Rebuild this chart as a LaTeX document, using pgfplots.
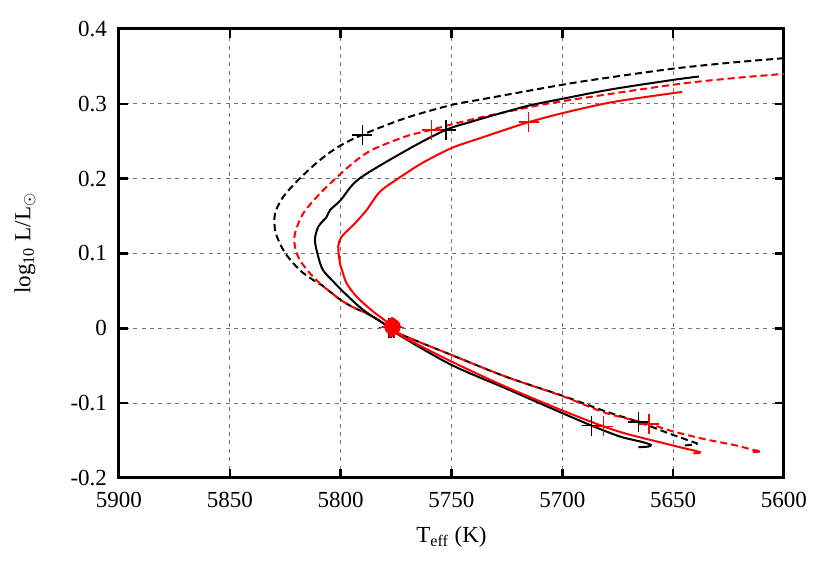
\documentclass[border=0pt]{standalone}
\usepackage{pgfplots}
\pgfplotsset{compat=1.18}
\usepackage{fontspec}
\setmainfont{Liberation Serif}
\begin{document}
\fontsize{11.5pt}{13pt}\selectfont
\begin{tikzpicture}
\path[use as bounding box] (-59.5pt,-51.5pt) rectangle (355.5pt,239pt);
\begin{axis}[
  at={(0,0)}, anchor=south west,
  scale only axis, width=332.5pt, height=224.5pt,
  x dir=reverse, xmin=5600, xmax=5900, ymin=-0.2, ymax=0.4,
  xtick={5600,5650,5700,5750,5800,5850,5900},
  ytick={-0.2,-0.1,0,0.1,0.2,0.3,0.4},
  yticklabels={-0.2,-0.1,0,0.1,0.2,0.3,0.4},
  /pgf/number format/assume math mode=true,
  /pgf/number format/1000 sep={},
  xticklabel style={yshift=-3pt},
  yticklabel style={xshift=-2pt},
  grid=major,
  major grid style={black!55, dash pattern=on 2pt off 2.2pt, line width=0.4pt},
  axis line style={line width=1.5pt},
  tick style={line width=1.2pt, black},
  major tick length=4.5pt,
  tick align=inside,
  xlabel={T\textsubscript{eff} (K)},
  ylabel={log\textsubscript{10} L/L$_\odot$},
  every axis x label/.style={at={(axis description cs:0.5,-0.1314)}, anchor=center},
  every axis y label/.style={at={(axis description cs:-0.1414,0.5234)}, anchor=center, rotate=90},
  every axis plot/.append style={line width=1pt},
]
% black dashed
\addplot[black, smooth, dash pattern=on 3.5pt off 2pt] coordinates {
(5644.7,-0.1566) (5639.4,-0.1544) (5640.9,-0.152) (5651.4,-0.141) (5665.7,-0.125)
(5680.5,-0.111) (5700,-0.090) (5725.7,-0.0644) (5750,-0.0356)
(5772.2,-0.0089) (5777,0) (5786.8,0.0178) (5794.3,0.028) (5800,0.0379)
(5804.8,0.049) (5808.6,0.0579) (5812.3,0.0643)
(5818.4,0.0777) (5824.4,0.0978) (5827.4,0.1134) (5829.6,0.1312) (5829.6,0.1535)
(5825.9,0.1758) (5818.4,0.2004) (5809.3,0.225) (5800.8,0.243) (5790.2,0.2587)
(5770.7,0.281) (5750,0.2985) (5737.3,0.3055) (5700,0.3255) (5680.5,0.3345)
(5650,0.347) (5624,0.355) (5600,0.361)
};
% red dashed
\addplot[red, smooth, dash pattern=on 3.5pt off 2pt] coordinates {
(5614,-0.1655) (5610.1,-0.1642) (5614,-0.1625) (5621.4,-0.1566) (5636.5,-0.1477)
(5651.5,-0.1365) (5661,-0.1276) (5680.5,-0.113) (5700,-0.0905) (5725.7,-0.0644)
(5750,-0.0356) (5772.2,-0.0089) (5777,0) (5786.8,0.0178) (5794.3,0.028)
(5800,0.0379) (5804.8,0.049) (5808.6,0.0579) (5813.8,0.0733) (5818.4,0.0911)
(5820.6,0.1089) (5820.6,0.1268) (5816.9,0.1535) (5809.3,0.1803) (5802,0.201)
(5794,0.222) (5785.7,0.2387) (5770.7,0.2564) (5759,0.2653)
(5750,0.2725) (5737.3,0.2815) (5728.7,0.287) (5714.9,0.2955) (5700,0.3035)
(5650,0.3255) (5624,0.334) (5600,0.340)
};
% black solid
\addplot[black, smooth] coordinates {
(5665.7,-0.1589) (5661.2,-0.158) (5660.1,-0.1557) (5664.2,-0.1517) (5674,-0.1446)
(5686.8,-0.130) (5700,-0.1133) (5725.7,-0.080) (5750,-0.0489)
(5773.7,-0.0089) (5777,0) (5780.8,0.0067) (5789.8,0.0245) (5797.3,0.0445)
(5803.3,0.0624) (5808,0.078) (5810.1,0.0956) (5811.6,0.1178) (5810.1,0.1357)
(5806.3,0.149) (5804.8,0.158) (5800,0.1713) (5791.6,0.200) (5768.7,0.2406)
(5752.4,0.2653) (5740.7,0.2764) (5728.7,0.2867) (5714.9,0.2978) (5700,0.3067)
(5677.6,0.3195) (5650,0.332) (5638.4,0.3365)
};
% red solid
\addplot[red, smooth] coordinates {
(5640.9,-0.167) (5637.9,-0.1656) (5646.9,-0.1589) (5659,-0.150) (5671,-0.141)
(5681.5,-0.131) (5700,-0.1098) (5725.7,-0.0778) (5750,-0.0444) (5772,-0.011)
(5777,0) (5779.3,0.0089) (5785.3,0.0223) (5792.8,0.0423) (5797.3,0.0601)
(5799.2,0.076) (5800.3,0.0866) (5801.1,0.1089) (5799.6,0.1223) (5794.3,0.138)
(5788.3,0.158) (5782.3,0.1825) (5773.7,0.2009) (5763.2,0.2209) (5750,0.2409)
(5737.7,0.2535) (5728.7,0.2625) (5715.2,0.2755) (5700,0.2875) (5677.6,0.3022)
(5650,0.3143) (5646,0.3156)
};
% markers
\addplot[only marks, mark=+, mark size=5pt, black, mark options={line width=0.8pt}] coordinates {
(5790.2,0.2587) (5752.4,0.2653) (5686.8,-0.130) (5665.7,-0.125)
(5778.4,0.001) (5777.2,0.001) (5776,0.001)
};
\addplot[only marks, mark=*, mark size=3.6pt, red, mark options={draw=red, fill=red}] coordinates {
(5776.6,0.002)
};
\addplot[only marks, mark=+, mark size=5pt, red, mark options={line width=0.8pt}] coordinates {
(5759,0.2653) (5715.2,0.2755) (5681.5,-0.131) (5661,-0.1276)
(5777.8,0.001) (5776.8,0.002) (5775.8,0.001)
};
\end{axis}
\end{tikzpicture}
\end{document}
